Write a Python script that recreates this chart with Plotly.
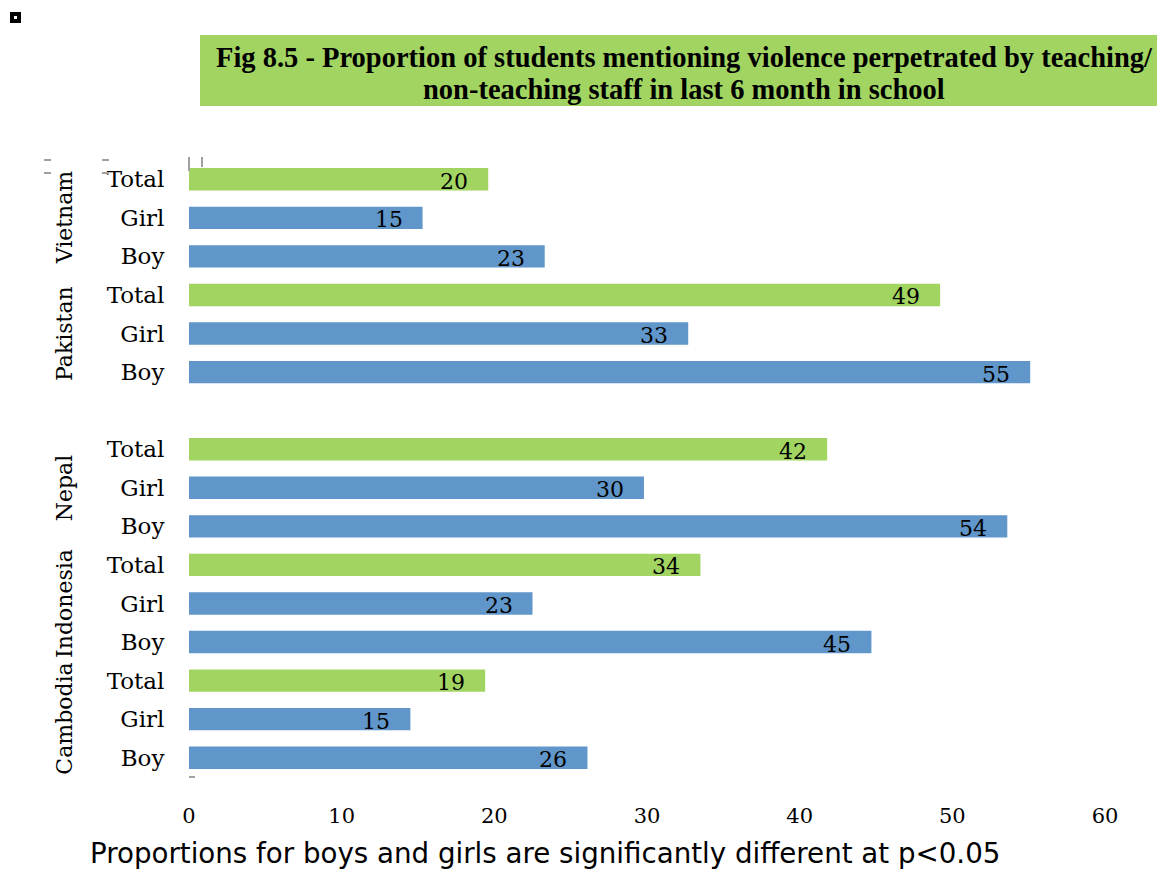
import plotly.graph_objects as go

countries = ["Cambodia", "Indonesia", "Nepal", "Pakistan", "Vietnam"]
groups = ["Boy", "Girl", "Total"]
# values, bottom-up per country: Boy, Girl, Total
boy = [26.1, 44.7, 53.6, 55.1, 23.3]
girl = [14.5, 22.5, 29.8, 32.7, 15.3]
total = [19.4, 33.5, 41.8, 49.2, 19.6]
labels_boy = ["26", "45", "54", "55", "23"]
labels_girl = ["15", "23", "30", "33", "15"]
labels_total = ["19", "34", "42", "49", "20"]
# slot index (bottom-up) of each country's first bar; slot 9 is empty
country_base = [0, 3, 6, 10, 13]

BLUE = "#6096C9"
GREEN = "#A2D462"
SERIF = "DejaVu Serif"

ys, xs, cols, texts, ticktext = [], [], [], [], []
for i, c in enumerate(countries):
    b = country_base[i]
    for j, (vals, labs) in enumerate([(boy, labels_boy), (girl, labels_girl), (total, labels_total)]):
        ys.append(b + j)
        xs.append(vals[i])
        texts.append(labs[i])
        cols.append(GREEN if j == 2 else BLUE)
        ticktext.append(groups[j])

fig = go.Figure()
fig.add_trace(go.Bar(
    x=xs, y=ys, orientation="h", marker=dict(color=cols, line=dict(width=0)),
    width=0.58, hoverinfo="skip",
))

for x, y, t in zip(xs, ys, texts):
    fig.add_annotation(x=x, y=y, text=t, showarrow=False, xanchor="center", xshift=-34,
                       yshift=-2, font=dict(family=SERIF, size=22, color="black"))


def pxx(px):
    return (px - 189) / 916


def pxy(py):
    return (777 - py) / 617


for i, c in enumerate(countries):
    fig.add_annotation(xref="paper", x=pxx(50), y=country_base[i] + 1, text=c, showarrow=False,
                       textangle=-90, font=dict(family=SERIF, size=22, color="black"))

# title box
fig.add_shape(type="rect", xref="paper", yref="paper", x0=pxx(200), x1=pxx(1165),
              y0=pxy(106), y1=pxy(35), fillcolor=GREEN, line=dict(width=0), layer="below")
for line, yc in [("Fig 8.5 - Proportion of students mentioning violence perpetrated by teaching/", 57),
                 ("non-teaching staff in last 6 month in school", 89)]:
    fig.add_annotation(xref="paper", yref="paper", x=pxx(684), y=pxy(yc), text="<b>" + line + "</b>",
                       showarrow=False, xanchor="center", yanchor="middle",
                       font=dict(family="Liberation Serif", size=28.5, color="black"))

# footnote
fig.add_annotation(xref="paper", yref="paper", x=pxx(88), y=pxy(853),
                   text="Proportions for boys and girls are significantly different at p<0.05",
                   showarrow=False, xanchor="left", yanchor="middle",
                   font=dict(family="DejaVu Sans", size=27.7, color="black"))


# stray marks
def px_rect(x0, y0, x1, y1, color):
    fig.add_shape(type="rect", xref="paper", yref="paper",
                  x0=pxx(x0), x1=pxx(x1), y0=pxy(y1), y1=pxy(y0),
                  fillcolor=color, line=dict(width=0))


px_rect(10, 12, 21, 23, "black")
px_rect(14, 16, 17, 19, "white")
for (a, b) in [(44, 159), (44, 172), (102, 159), (102, 172)]:
    px_rect(a, b, a + 7, b + 2, "#A0A0A0")
px_rect(188, 157, 190, 171, "#A0A0A0")
px_rect(201, 157, 203, 167, "#A0A0A0")
px_rect(189, 776, 195, 778, "#A0A0A0")

# the page adds an 8px body margin; shift the figure origin to compensate
fig.update_layout(
    width=1157, height=865, margin=dict(l=181, r=60, t=152, b=96),
    paper_bgcolor="white", plot_bgcolor="white", showlegend=False, bargap=0.4,
    xaxis=dict(range=[0, 60], tickvals=[0, 10, 20, 30, 40, 50, 60], showgrid=False, zeroline=False,
               showline=False, ticks="outside", ticklen=20, tickcolor="rgba(0,0,0,0)",
               tickfont=dict(family=SERIF, size=21, color="black")),
    yaxis=dict(range=[-0.5, 15.5], tickvals=ys, ticktext=ticktext, showgrid=False, zeroline=False,
               showline=False, ticks="outside", ticklen=19, tickcolor="rgba(0,0,0,0)",
               tickfont=dict(family=SERIF, size=23, color="black")),
)

fig.write_html("out.html")
